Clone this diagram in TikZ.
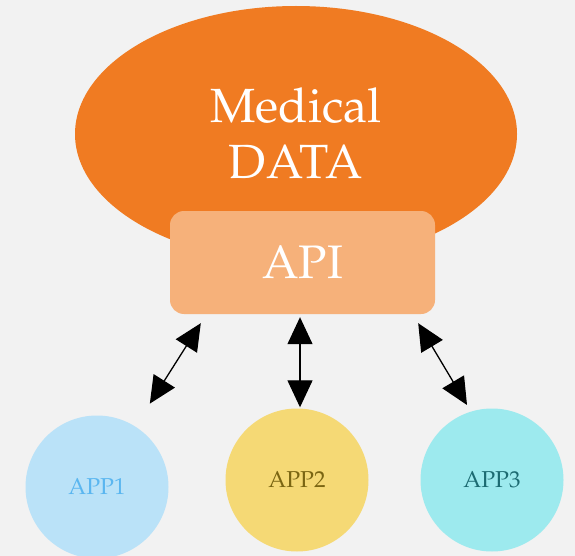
\documentclass[tikz,border=0pt]{standalone}
\usepackage[T1]{fontenc}
\usepackage{mathpazo}
\usetikzlibrary{arrows.meta,calc,shapes.geometric}
\definecolor{bgc}{HTML}{F2F2F2}
\definecolor{dataorange}{HTML}{F07B22}
\definecolor{apiorange}{HTML}{F6B17A}
\definecolor{appblue}{HTML}{BAE2F8}
\definecolor{appbluetext}{HTML}{5AB6F0}
\definecolor{appyellow}{HTML}{F5D975}
\definecolor{appyellowtext}{HTML}{7A6512}
\definecolor{appcyan}{HTML}{9DEAEE}
\definecolor{appcyantext}{HTML}{1C6B72}
\tikzset{
  bigtext/.style={text=white, font=\fontsize{48}{56}\selectfont},
  appnode/.style={circle, minimum size=143pt, inner sep=0pt,
    font=\fontsize{23}{26}\selectfont},
  link/.style={line width=1.3pt,
    {Triangle[length=27pt,width=25pt]}-{Triangle[length=27pt,width=25pt]}},
}
\begin{document}
\begin{tikzpicture}[x=1pt,y=-1pt]
  \useasboundingbox (0,0) rectangle (575,556);
  \fill[bgc] (0,0) rectangle (575,556);

  % data store and its API layer
  \node[ellipse, fill=dataorange, minimum width=442pt, minimum height=256pt,
        inner sep=0pt] (data) at (296,134) {};
  \node[bigtext, align=center] (datalabel) at (296,133.5) {Medical\\DATA};
  \node[rectangle, rounded corners=14pt, fill=apiorange, minimum width=265pt,
        minimum height=103pt, bigtext, font=\fontsize{47}{55}\selectfont]
        (api) at (302.5,262.5) {API};

  % client applications
  \node[appnode, fill=appblue, text=appbluetext] (app1) at (97,487) {APP1};
  \node[appnode, fill=appyellow, text=appyellowtext] (app2) at (297,480) {APP2};
  \node[appnode, fill=appcyan, text=appcyantext] (app3) at (492,480) {APP3};

  % two-way links between the API and each application
  \coordinate (a1s) at ($(api.south west)+(31,9)$);
  \coordinate (a2s) at ($(api.south)+(-2.5,3)$);
  \coordinate (a3s) at ($(api.south east)+(-17,9)$);
  \coordinate (a3e) at (467,405);
  \draw[link, shorten >=27pt] (a1s) -- (app1);
  \draw[link, shorten >=1pt] (a2s) -- (a2s |- app2.north);
  \draw[link] (a3s) -- (a3e);
\end{tikzpicture}
\end{document}
